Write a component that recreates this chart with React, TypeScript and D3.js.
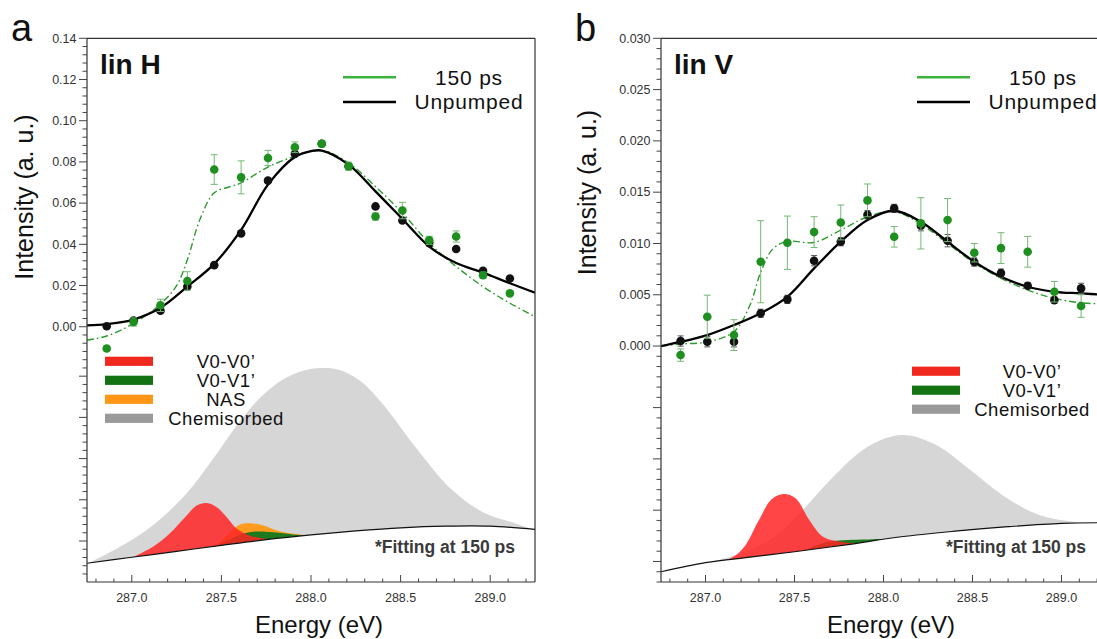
import React from 'react'
import * as d3 from 'd3'

type Pt = [number, number]

// photon energies of the measured points (eV), same grid in both panels
const ENERGY = [286.86, 287.01, 287.16, 287.31, 287.46, 287.61, 287.76, 287.91, 288.06, 288.21, 288.36, 288.51, 288.66, 288.81, 288.96, 289.11]

const X_TICKS = [287.0, 287.5, 288.0, 288.5, 289.0]

// ---- panel a: lin H ----
const A_UNPUMPED = [0.0002, 0.0030, 0.0078, 0.0195, 0.0299, 0.0453, 0.0709, 0.0839, 0.0888, 0.0779, 0.0584, 0.0516, 0.0406, 0.0377, 0.0271, 0.0234]
const A_UNPUMPED_ERR = [0.001, 0.001, 0.001, 0.001, 0.001, 0.001, 0.001, 0.001, 0.001, 0.001, 0.001, 0.001, 0.001, 0.001, 0.001, 0.001]
const A_PUMPED = [-0.0106, 0.0023, 0.0104, 0.0222, 0.0763, 0.0725, 0.0819, 0.0871, 0.0888, 0.0779, 0.0535, 0.0564, 0.0419, 0.0438, 0.0250, 0.0162]
const A_PUMPED_ERR = [0.001, 0.002, 0.003, 0.0045, 0.0072, 0.008, 0.0037, 0.0026, 0.0015, 0.002, 0.0017, 0.004, 0.002, 0.0027, 0.0015, 0.001]

const A_FIT_UNPUMPED: Pt[] = [
  [286.75, 0.0007], [286.86, 0.0013], [287.01, 0.0035], [287.16, 0.0092], [287.31, 0.0195], [287.46, 0.0305],
  [287.61, 0.0470], [287.76, 0.0690], [287.91, 0.0824], [288.0, 0.0852], [288.06, 0.0855], [288.21, 0.0787],
  [288.36, 0.0657], [288.51, 0.0523], [288.66, 0.0389], [288.81, 0.0309], [288.96, 0.0263], [289.11, 0.0211], [289.25, 0.0165],
]
const A_FIT_PUMPED: Pt[] = [
  [286.75, -0.0065], [286.86, -0.0045], [287.01, 0.0016], [287.16, 0.0110], [287.25, 0.0200], [287.31, 0.0325],
  [287.38, 0.0520], [287.46, 0.0650], [287.55, 0.0680], [287.61, 0.0698], [287.76, 0.0775], [287.91, 0.0827],
  [288.06, 0.0856], [288.21, 0.0795], [288.36, 0.0680], [288.51, 0.0552], [288.66, 0.0406], [288.81, 0.0292],
  [288.96, 0.0195], [289.11, 0.0114], [289.25, 0.0049],
]
const A_BASELINE: Pt[] = [
  [286.75, -0.1148], [287.0, -0.1119], [287.25, -0.1090], [287.5, -0.1061], [287.75, -0.1033], [288.0, -0.1010],
  [288.25, -0.0991], [288.5, -0.0976], [288.75, -0.0968], [289.0, -0.0968], [289.25, -0.0984],
]
const A_CHEM: Pt[] = [
  [286.75, -0.1150], [286.93, -0.1070], [287.12, -0.0962], [287.31, -0.0805], [287.455, -0.0640], [287.6, -0.0462],
  [287.733, -0.0330], [287.85, -0.0252], [287.96, -0.0212], [288.05, -0.0200], [288.15, -0.0208], [288.27, -0.0260],
  [288.40, -0.0375], [288.59, -0.0592], [288.78, -0.0786], [288.96, -0.0900], [289.15, -0.0957], [289.25, -0.0988],
]
const A_V0V0: Pt[] = [
  [286.98, -0.1130], [287.12, -0.1067], [287.21, -0.1005], [287.306, -0.0916], [287.362, -0.0868], [287.418, -0.0856],
  [287.474, -0.0876], [287.53, -0.0925], [287.586, -0.0981], [287.66, -0.1014], [287.753, -0.1030], [287.86, -0.1030],
]
const A_NAS: Pt[] = [
  [287.45, -0.1068], [287.492, -0.1046], [287.548, -0.0998], [287.604, -0.0960], [287.66, -0.0954], [287.735, -0.0965],
  [287.81, -0.0989], [287.903, -0.1005], [287.977, -0.1012], [288.02, -0.1016],
]
const A_V0V1: Pt[] = [
  [287.45, -0.1068], [287.55, -0.1030], [287.62, -0.1005], [287.68, -0.0995], [287.79, -0.0998], [287.9, -0.1008],
  [287.98, -0.1013], [288.02, -0.1016],
]
const A_Y_TICKS = [0, 0.02, 0.04, 0.06, 0.08, 0.10, 0.12, 0.14]
const A_Y_OFFSET_TICKS = [-0.024, -0.044, -0.064, -0.084, -0.104]

// ---- panel b: lin V ----
const B_UNPUMPED = [0.00049, 0.00042, 0.00042, 0.00319, 0.00455, 0.00832, 0.01017, 0.0128, 0.01342, 0.01173, 0.01027, 0.00819, 0.00711, 0.00588, 0.00448, 0.00562]
const B_UNPUMPED_ERR = [0.0005, 0.0005, 0.0005, 0.0004, 0.0004, 0.0005, 0.0004, 0.0004, 0.0004, 0.0005, 0.0006, 0.0004, 0.0004, 0.0003, 0.0003, 0.0005]
const B_PUMPED = [-0.00088, 0.00286, 0.00107, 0.00822, 0.01007, 0.01111, 0.01205, 0.0142, 0.01065, 0.01196, 0.01228, 0.0091, 0.00955, 0.00919, 0.00529, 0.0039]
const B_PUMPED_ERR = [0.0006, 0.0021, 0.0015, 0.004, 0.0026, 0.0015, 0.0017, 0.0016, 0.001, 0.0025, 0.0021, 0.0009, 0.0015, 0.0015, 0.001, 0.0011]

const B_FIT_UNPUMPED: Pt[] = [
  [286.75, 0.0], [286.86, 0.0004], [287.01, 0.00107], [287.16, 0.00205], [287.31, 0.0032], [287.46, 0.0048],
  [287.61, 0.00757], [287.76, 0.01017], [287.91, 0.01228], [288.06, 0.01319], [288.21, 0.01212], [288.36, 0.01017],
  [288.51, 0.00822], [288.66, 0.00675], [288.81, 0.00578], [288.96, 0.00529], [289.11, 0.00514], [289.25, 0.00497],
]
const B_FIT_PUMPED: Pt[] = [
  [286.75, 0.0], [286.86, 0.0002], [287.01, 0.0004], [287.16, 0.0014], [287.25, 0.0040], [287.31, 0.0072],
  [287.38, 0.0095], [287.46, 0.0102], [287.61, 0.0101], [287.76, 0.0113], [287.91, 0.0126], [288.06, 0.0131],
  [288.21, 0.0119], [288.36, 0.0100], [288.51, 0.0081], [288.66, 0.0066], [288.81, 0.00546], [288.96, 0.00465],
  [289.11, 0.00422], [289.25, 0.0041],
]
const B_BASELINE: Pt[] = [
  [286.75, -0.0220], [287.0, -0.02112], [287.25, -0.02058], [287.5, -0.02005], [287.8, -0.01935], [288.1, -0.01859],
  [288.4, -0.01805], [288.7, -0.01761], [289.0, -0.01728], [289.25, -0.01722],
]
const B_CHEM: Pt[] = [
  [287.0, -0.0212], [287.2, -0.0202], [287.35, -0.0190], [287.45, -0.0177], [287.564, -0.01566], [287.718, -0.01274],
  [287.911, -0.00981], [288.104, -0.00867], [288.296, -0.00965], [288.488, -0.01209], [288.681, -0.01469],
  [288.874, -0.01647], [289.066, -0.01712], [289.25, -0.01725],
]
const B_V0V0: Pt[] = [
  [286.95, -0.02130], [287.14, -0.0207], [287.218, -0.01956], [287.295, -0.01712], [287.372, -0.01494], [287.439, -0.01443],
  [287.506, -0.01484], [287.583, -0.01696], [287.66, -0.01859], [287.757, -0.01907], [287.87, -0.01928],
]
const B_V0V1: Pt[] = [
  [287.55, -0.0200], [287.62, -0.01945], [287.7, -0.01905], [287.8, -0.0189], [287.9, -0.01885], [287.98, -0.0188], [288.03, -0.0189],
]
const B_Y_TICKS = [0, 0.005, 0.010, 0.015, 0.020, 0.025, 0.030]
const B_Y_OFFSET_TICKS = [-0.006, -0.011, -0.016, -0.021]

const FONT = "'Liberation Sans', Arial, Helvetica, sans-serif"
const TOP = 38.3
const BOTTOM = 582

const C_GRAY = '#d6d6d6'
const C_RED = '#ff2424'
const C_ORANGE = '#ff9b1e'
const C_GREENFILL = '#1d7a1d'
const C_POINT_GREEN = '#1f8f1f'

interface PanelProps {
  id: string
  left: number
  right: number
  yDomain: [number, number]
  yTicks: number[]
  yOffsetTicks: number[]
  yMinor: number
  yFmt: string
  black: number[]
  blackErr: number[]
  green: number[]
  greenErr: number[]
  fitBlack: Pt[]
  fitGreen: Pt[]
  baseline: Pt[]
  chem: Pt[]
  v0v0: Pt[]
  v0v1: Pt[]
  nas?: Pt[]
  letter: string
  letterX: number
  title: string
  yTitleX: number
  yTitleY: number
  xTitleX: number
  legSwatchX: number
  legTextX: number
  legY: number
}

function Panel(p: PanelProps) {
  const x = d3.scaleLinear().domain([286.75, 289.25]).range([p.left, p.right])
  const y = d3.scaleLinear().domain(p.yDomain).range([BOTTOM, TOP])
  const curve = d3.curveCatmullRom.alpha(0.5)
  const line = d3.line<Pt>().x(d => x(d[0])).y(d => y(d[1])).curve(curve)
  const fill = d3.area<Pt>().x(d => x(d[0])).y0(BOTTOM).y1(d => y(d[1])).curve(curve)
  const mask = d3.area<Pt>().x(d => x(d[0])).y0(BOTTOM + 2).y1(d => y(d[1])).curve(curve)

  const step = p.yMinor
  const minor = d3.range(Math.ceil(p.yDomain[0] / step), Math.floor(p.yDomain[1] / step + 1e-6) + 1).map(i => i * step)
  const majors = [...p.yTicks, ...p.yOffsetTicks]
  const minorY = minor.filter(v => !majors.some(m => Math.abs(m - v) < step / 10))
  const minorX = d3.range(0, 25).map(i => 286.8 + i * 0.1).filter(v => v < 289.25 && !X_TICKS.some(t => Math.abs(t - v) < 0.01))
  const fmt = d3.format(p.yFmt)
  const clipId = `clip-${p.id}`

  const legendRows: { label: string; color: string }[] = [
    { label: 'V0-V0’', color: '#f0281e' },
    { label: 'V0-V1’', color: '#137313' },
    ...(p.nas ? [{ label: 'NAS', color: '#ff9616' }] : []),
    { label: 'Chemisorbed', color: '#9a9a9a' },
  ]

  return (
    <g fontFamily={FONT}>
      <defs>
        <clipPath id={clipId}>
          <rect x={p.left} y={TOP} width={p.right - p.left} height={BOTTOM - TOP} />
        </clipPath>
      </defs>
      <g clipPath={`url(#${clipId})`}>
        {/* fitted components (lower part) */}
        <path d={fill(p.chem) ?? ''} fill={C_GRAY} />
        {p.nas && <path d={fill(p.nas) ?? ''} fill={C_ORANGE} />}
        <path d={fill(p.v0v1) ?? ''} fill={C_GREENFILL} />
        <path d={fill(p.v0v0) ?? ''} fill={C_RED} fillOpacity={0.85} />
        <path d={mask(p.baseline) ?? ''} fill="#fff" />
        <path d={line(p.baseline) ?? ''} fill="none" stroke="#111" strokeWidth={1.2} />

        {/* fitted spectra */}
        <path d={line(p.fitGreen) ?? ''} fill="none" stroke="#2e9a2e" strokeWidth={1.4} strokeDasharray="7 3 1.6 3" />
        <path d={line(p.fitBlack) ?? ''} fill="none" stroke="#000" strokeWidth={2.3} />

        {/* unpumped points */}
        {ENERGY.map((e, i) => (
          <g key={`k${i}`}>
            <line x1={x(e)} x2={x(e)} y1={y(p.black[i] - p.blackErr[i])} y2={y(p.black[i] + p.blackErr[i])} stroke="#555" strokeWidth={1} />
            <line x1={x(e) - 3} x2={x(e) + 3} y1={y(p.black[i] - p.blackErr[i])} y2={y(p.black[i] - p.blackErr[i])} stroke="#555" strokeWidth={1} />
            <line x1={x(e) - 3} x2={x(e) + 3} y1={y(p.black[i] + p.blackErr[i])} y2={y(p.black[i] + p.blackErr[i])} stroke="#555" strokeWidth={1} />
            <circle cx={x(e)} cy={y(p.black[i])} r={4.3} fill="#111" />
          </g>
        ))}
        {/* 150 ps points */}
        {ENERGY.map((e, i) => (
          <g key={`g${i}`}>
            <line x1={x(e)} x2={x(e)} y1={y(p.green[i] - p.greenErr[i])} y2={y(p.green[i] + p.greenErr[i])} stroke="#74b874" strokeWidth={1} />
            <line x1={x(e) - 3.5} x2={x(e) + 3.5} y1={y(p.green[i] - p.greenErr[i])} y2={y(p.green[i] - p.greenErr[i])} stroke="#74b874" strokeWidth={1} />
            <line x1={x(e) - 3.5} x2={x(e) + 3.5} y1={y(p.green[i] + p.greenErr[i])} y2={y(p.green[i] + p.greenErr[i])} stroke="#74b874" strokeWidth={1} />
            <circle cx={x(e)} cy={y(p.green[i])} r={4.3} fill={C_POINT_GREEN} />
          </g>
        ))}
      </g>

      {/* frame */}
      <line x1={p.left} x2={p.right} y1={TOP} y2={TOP} stroke="#333" strokeWidth={1.2} />
      <line x1={p.right} x2={p.right} y1={TOP} y2={BOTTOM} stroke="#333" strokeWidth={1.2} />
      <line x1={p.left} x2={p.left} y1={TOP} y2={BOTTOM} stroke="#333" strokeWidth={1.2} />
      <line x1={p.left} x2={p.right} y1={BOTTOM} y2={BOTTOM} stroke="#333" strokeWidth={1.2} />

      {/* y ticks */}
      {majors.map(v => (
        <line key={`ym${v}`} x1={p.left - 8} x2={p.left} y1={y(v)} y2={y(v)} stroke="#444" strokeWidth={1} />
      ))}
      {minorY.map(v => (
        <line key={`yn${v}`} x1={p.left - 4.5} x2={p.left} y1={y(v)} y2={y(v)} stroke="#444" strokeWidth={1} />
      ))}
      {p.yTicks.map(v => (
        <text key={`yl${v}`} x={p.left - 10.5} y={y(v) + 4.3} textAnchor="end" fontSize={12.5} fill="#333">{fmt(v)}</text>
      ))}

      {/* x ticks */}
      {X_TICKS.map(v => (
        <g key={`xm${v}`}>
          <line x1={x(v)} x2={x(v)} y1={BOTTOM} y2={BOTTOM - 7} stroke="#444" strokeWidth={1} />
          <text x={x(v)} y={601.7} textAnchor="middle" fontSize={12.5} fill="#333">{v.toFixed(1)}</text>
        </g>
      ))}
      {minorX.map(v => (
        <line key={`xn${v}`} x1={x(v)} x2={x(v)} y1={BOTTOM} y2={BOTTOM - 3.5} stroke="#444" strokeWidth={1} />
      ))}

      {/* titles */}
      <text x={p.letterX} y={41} fontSize={38} fill="#111">{p.letter}</text>
      <text x={p.left + 13} y={74} fontSize={28} fontWeight="bold" fill="#111">{p.title}</text>
      <text transform={`translate(${p.yTitleX},${p.yTitleY}) rotate(-90)`} textAnchor="middle" fontSize={25} fill="#111">Intensity (a. u.)</text>
      <text x={p.xTitleX} y={633} textAnchor="middle" fontSize={24} fill="#111">Energy (eV)</text>

      {/* line legend */}
      <line x1={p.left + 256} x2={p.left + 309} y1={77.3} y2={77.3} stroke="#3cb43c" strokeWidth={2.5} />
      <line x1={p.left + 256} x2={p.left + 309} y1={102} y2={102} stroke="#000" strokeWidth={2.5} />
      <text x={p.left + 382} y={84.5} textAnchor="middle" fontSize={21} letterSpacing={0.8} fill="#111">150 ps</text>
      <text x={p.left + 382} y={109.2} textAnchor="middle" fontSize={21} letterSpacing={0.8} fill="#111">Unpumped</text>

      {/* fit legend */}
      {legendRows.map((r, i) => (
        <g key={r.label}>
          <rect x={p.legSwatchX} y={p.legY + i * 19 - 4.6} width={48} height={9.2} fill={r.color} />
          <text x={p.legTextX} y={p.legY + i * 19 + 6.6} textAnchor="middle" fontSize={18.5} letterSpacing={0.5} fill="#111">{r.label}</text>
        </g>
      ))}
      <text x={p.right - 20} y={553} textAnchor="end" fontSize={17.5} fontWeight="bold" fill="#3a3a3a">*Fitting at 150 ps</text>
    </g>
  )
}

export default function App() {
  return (
    <svg width={1097} height={639} style={{ position: 'absolute', left: 0, top: 0, background: '#fff' }}>
      <rect width={1097} height={639} fill="#fff" />
      <Panel
        id="a" left={87} right={535} yDomain={[-0.1239, 0.14]}
        yTicks={A_Y_TICKS} yOffsetTicks={A_Y_OFFSET_TICKS} yMinor={0.004} yFmt=".2f"
        black={A_UNPUMPED} blackErr={A_UNPUMPED_ERR} green={A_PUMPED} greenErr={A_PUMPED_ERR}
        fitBlack={A_FIT_UNPUMPED} fitGreen={A_FIT_PUMPED}
        baseline={A_BASELINE} chem={A_CHEM} v0v0={A_V0V0} v0v1={A_V0V1} nas={A_NAS}
        letter="a" letterX={11} title="lin H" yTitleX={33} yTitleY={197} xTitleX={319}
        legSwatchX={105} legTextX={226} legY={361.3}
      />
      <Panel
        id="b" left={661} right={1106} yDomain={[-0.0230, 0.03]}
        yTicks={B_Y_TICKS} yOffsetTicks={B_Y_OFFSET_TICKS} yMinor={0.001} yFmt=".3f"
        black={B_UNPUMPED} blackErr={B_UNPUMPED_ERR} green={B_PUMPED} greenErr={B_PUMPED_ERR}
        fitBlack={B_FIT_UNPUMPED} fitGreen={B_FIT_PUMPED}
        baseline={B_BASELINE} chem={B_CHEM} v0v0={B_V0V0} v0v1={B_V0V1}
        letter="b" letterX={575} title="lin V" yTitleX={596} yTitleY={192.5} xTitleX={891}
        legSwatchX={912} legTextX={1032} legY={371.2}
      />
    </svg>
  )
}
